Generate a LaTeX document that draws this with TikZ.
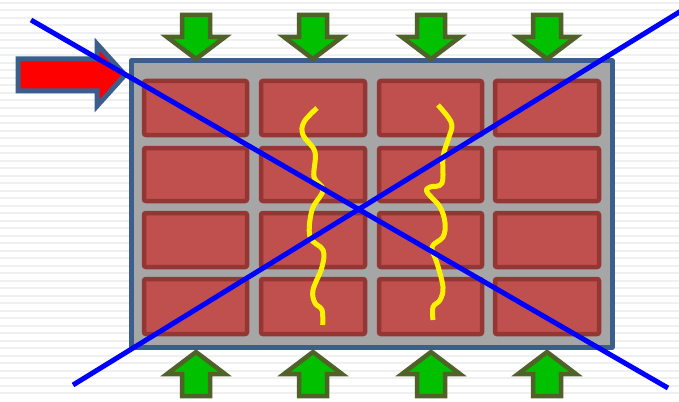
\documentclass[tikz,border=0pt]{standalone}
\usepackage{tikz}
\usetikzlibrary{arrows.meta, positioning}
\definecolor{wallgray}{HTML}{A6A6A6}
\definecolor{wallblue}{HTML}{3B5E8C}
\definecolor{brickred}{HTML}{C0504D}
\definecolor{brickdark}{HTML}{943634}
\definecolor{pushgreen}{HTML}{00C000}
\definecolor{pushdark}{HTML}{4F6228}
\definecolor{stripegray}{HTML}{F0F0F0}

\begin{document}
\begin{tikzpicture}[
  x=1pt, y=-1pt,
  stripe/.style={stripegray, line width=2pt},
  wall/.style={fill=wallgray, draw=wallblue, line width=5pt, line join=round},
  brick/.style={fill=brickred, draw=brickdark, line width=4.5pt, rounded corners=2pt},
  push/.style={fill=pushgreen, draw=pushdark, line width=4.5pt, line join=miter},
  shove/.style={fill=red, draw=wallblue, line width=5pt, line join=miter},
  crack/.style={yellow, line width=5pt, line join=round},
  cross/.style={blue, line width=5pt}
]
% Background
\useasboundingbox (0,0) rectangle (679,401);
\fill[white] (0,0) rectangle (679,401);
\foreach \y in {3,10.5,...,400}
  \draw[stripe] (0,\y) -- (679,\y);
% Wall
\draw[wall] (131,61) rectangle (612,347);
\foreach \xa/\xb in {144/247, 261/365, 379/482, 495/599}
  \foreach \ya/\yb in {81/135, 148/201, 213/267, 279/334}
    \draw[brick] (\xa,\ya) rectangle (\xb,\yb);
% Cracks
\draw[crack] plot[smooth, tension=0.6] coordinates {(317,108) (304,122) (303,135) (315,152)
  (314,177) (323,190) (312,210) (310,237) (323,250) (322,267) (313,290) (315,303)
  (322,310) (322.7,325)};
\draw[crack] plot[smooth, tension=0.6] coordinates {(438,105) (448,117) (452,126) (448,140)
  (443,157) (442,183) (430,187) (427,192) (440,207) (445,223) (443,237) (432,247)
  (437,263) (443,287) (440,300) (433,307) (433,320)};
% Loads
\foreach \cx in {196,313,431,547} {
  \draw[push] (\cx-14,15) -- (\cx+14,15) -- (\cx+14,37) -- (\cx+29,37) -- (\cx,59)
    -- (\cx-29,37) -- (\cx-14,37) -- cycle;
  \draw[push] (\cx-14,396) -- (\cx+14,396) -- (\cx+14,374) -- (\cx+29,374) -- (\cx,352)
    -- (\cx-29,374) -- (\cx-14,374) -- cycle;
}
\draw[shove] (18,59) -- (97,59) -- (97,44) -- (125,75) -- (97,106) -- (97,91)
  -- (18,91) -- cycle;
% Crossed out
\draw[cross] (31,20) -- (668,388);
\draw[cross] (73,385) -- (681,11);
\end{tikzpicture}
\end{document}
